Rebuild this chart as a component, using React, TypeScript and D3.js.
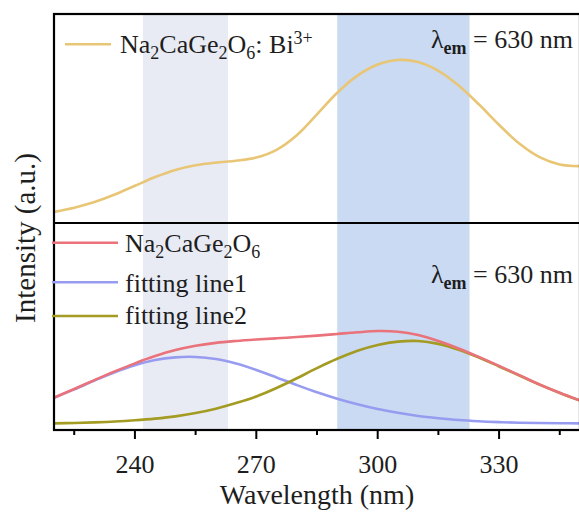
import React from "react";
import * as d3 from "d3";

// Wavelength grid (nm)
const wavelengths = [
  220, 225, 230, 235, 240, 245, 250, 255, 260, 265, 270, 275, 280, 285,
  290, 295, 300, 305, 310, 315, 320, 325, 330, 335, 340, 345, 350,
];

// Upper panel: Na2CaGe2O6:Bi3+ excitation spectrum
const doped = [
  5.3, 7.3, 10.0, 13.6, 17.8, 22.0, 25.4, 27.6, 28.9, 29.8, 31.3, 35.0, 42.0,
  52.0, 62.3, 70.5, 75.8, 78.0, 77.0, 72.8, 65.8, 56.8, 47.0, 38.0, 31.5, 28.0,
  27.2,
];

// Lower panel: host spectrum and its two fitted components
const host = [
  15.6, 19.8, 24.1, 28.3, 32.2, 35.7, 38.6, 40.7, 42.1, 43.0, 43.7, 44.3, 44.9,
  45.6, 46.4, 47.2, 47.8, 47.5, 45.9, 43.0, 39.4, 35.3, 31.0, 26.5, 22.0, 18.0,
  14.3,
];
const fit1 = [
  15.6, 19.6, 23.9, 27.9, 31.3, 33.8, 35.1, 35.3, 34.3, 32.1, 29.0, 25.4, 21.7,
  18.2, 15.1, 12.4, 10.1, 8.3, 6.8, 5.7, 4.8, 4.2, 3.8, 3.5, 3.35, 3.25, 3.2,
];
const fit2 = [
  3.2, 3.4, 3.7, 4.1, 4.7, 5.5, 6.6, 8.2, 10.3, 13.0, 16.2, 20.3, 25.0, 29.9,
  34.4, 38.3, 41.1, 42.7, 43.0, 41.6, 38.8, 35.0, 30.7, 26.3, 21.9, 17.9, 14.2,
];

// Highlighted excitation bands (nm)
const bands = [
  { from: 242, to: 263, color: "#e8ebf4" },
  { from: 290, to: 322.7, color: "#c9daf2" },
];

const majorTicks = [240, 270, 300, 330];
const minorTicks = [225, 255, 285, 315, 345];

const W = 579;
const H = 513;
const left = 54;
const right = 580;
const top = 14;
const mid = 223;
const bottom = 430;

const FONT = "Times New Roman";
const INK = "#1e1e1e";

const x = d3.scaleLinear().domain([220, 350]).range([left, right]);
const yTop = d3.scaleLinear().domain([0, 100]).range([mid, top]);
const yBot = d3.scaleLinear().domain([0, 100]).range([bottom, mid]);

const makeLine = (ys: number[], y: d3.ScaleLinear<number, number>) =>
  d3
    .line<number>()
    .x((_, i) => x(wavelengths[i]))
    .y((v) => y(v))
    .curve(d3.curveCatmullRom.alpha(0.5))(ys) || "";

const seriesBottom = [
  { name: "fit1", values: fit1, color: "#979cf0" },
  { name: "fit2", values: fit2, color: "#a39b22" },
  { name: "host", values: host, color: "#ea727b" },
];

function Label(props: React.SVGProps<SVGTextElement>) {
  return <text fontFamily={FONT} style={{ fontFamily: FONT }} fill={INK} {...props} />;
}

function Formula({ x0, y0 }: { x0: number; y0: number }) {
  return (
    <Label x={x0} y={y0} fontSize={26}>
      Na
      <tspan fontSize={18} dy={6}>2</tspan>
      <tspan dy={-6}>CaGe</tspan>
      <tspan fontSize={18} dy={6}>2</tspan>
      <tspan dy={-6}>O</tspan>
      <tspan fontSize={18} dy={6}>6</tspan>
    </Label>
  );
}

function Lambda({ x0, y0 }: { x0: number; y0: number }) {
  return (
    <Label x={x0} y={y0} fontSize={26}>
      λ
      <tspan fontSize={18} fontWeight="bold" dy={6}>em</tspan>
      <tspan dy={-6}> = 630 nm</tspan>
    </Label>
  );
}

export default function App() {
  return (
    <svg
      width={W}
      height={H}
      style={{ position: "absolute", left: 0, top: 0, background: "#fff" }}
    >
      <defs>
        <clipPath id="plot-area">
          <rect x={left} y={top} width={right - left} height={bottom - top} />
        </clipPath>
      </defs>

      {bands.map((b) => (
        <rect
          key={b.from}
          x={x(b.from)}
          y={top}
          width={x(b.to) - x(b.from)}
          height={bottom - top}
          fill={b.color}
        />
      ))}

      <g clipPath="url(#plot-area)" fill="none" strokeWidth={2.6} strokeLinejoin="round">
        <path d={makeLine(doped, yTop)} stroke="#e8c676" />
        {seriesBottom.map((s) => (
          <path key={s.name} d={makeLine(s.values, yBot)} stroke={s.color} />
        ))}
      </g>

      {/* frame and panel divider */}
      <g stroke="#000" strokeWidth={2.2} fill="none">
        <rect x={left} y={top} width={right - left} height={bottom - top} />
        <line x1={left} x2={right} y1={mid} y2={mid} />
      </g>

      {/* x axis ticks */}
      <g stroke="#000" strokeWidth={2}>
        {majorTicks.map((t) => (
          <line key={t} x1={x(t)} x2={x(t)} y1={bottom} y2={bottom + 9} />
        ))}
        {minorTicks.map((t) => (
          <line key={t} x1={x(t)} x2={x(t)} y1={bottom} y2={bottom + 5} />
        ))}
      </g>
      {majorTicks.map((t) => (
        <Label key={t} x={x(t)} y={473} textAnchor="middle" fontSize={26}>
          {t}
        </Label>
      ))}

      <Label x={(left + right) / 2} y={504} textAnchor="middle" fontSize={28}>
        Wavelength (nm)
      </Label>
      <Label transform="translate(35,238) rotate(-90)" textAnchor="middle" fontSize={29}>
        Intensity (a.u.)
      </Label>

      {/* upper legend */}
      <line x1={65} x2={111} y1={44.3} y2={44.3} stroke="#e8c676" strokeWidth={2.6} />
      <Label x={120} y={52.7} fontSize={26}>
        Na
        <tspan fontSize={18} dy={6}>2</tspan>
        <tspan dy={-6}>CaGe</tspan>
        <tspan fontSize={18} dy={6}>2</tspan>
        <tspan dy={-6}>O</tspan>
        <tspan fontSize={18} dy={6}>6</tspan>
        <tspan dy={-6}>: Bi</tspan>
        <tspan fontSize={18} dy={-9}>3+</tspan>
      </Label>
      <Lambda x0={431} y0={48} />

      {/* lower legend */}
      <g strokeWidth={2.6}>
        <line x1={52} x2={118} y1={242.7} y2={242.7} stroke="#ea727b" />
        <line x1={52} x2={118} y1={282.3} y2={282.3} stroke="#979cf0" />
        <line x1={52} x2={118} y1={316} y2={316} stroke="#a39b22" />
      </g>
      <Formula x0={125} y0={251.7} />
      <Label x={125} y={291.7} fontSize={26}>
        fitting line1
      </Label>
      <Label x={125} y={324} fontSize={26}>
        fitting line2
      </Label>
      <Lambda x0={431} y0={282.5} />
    </svg>
  );
}
